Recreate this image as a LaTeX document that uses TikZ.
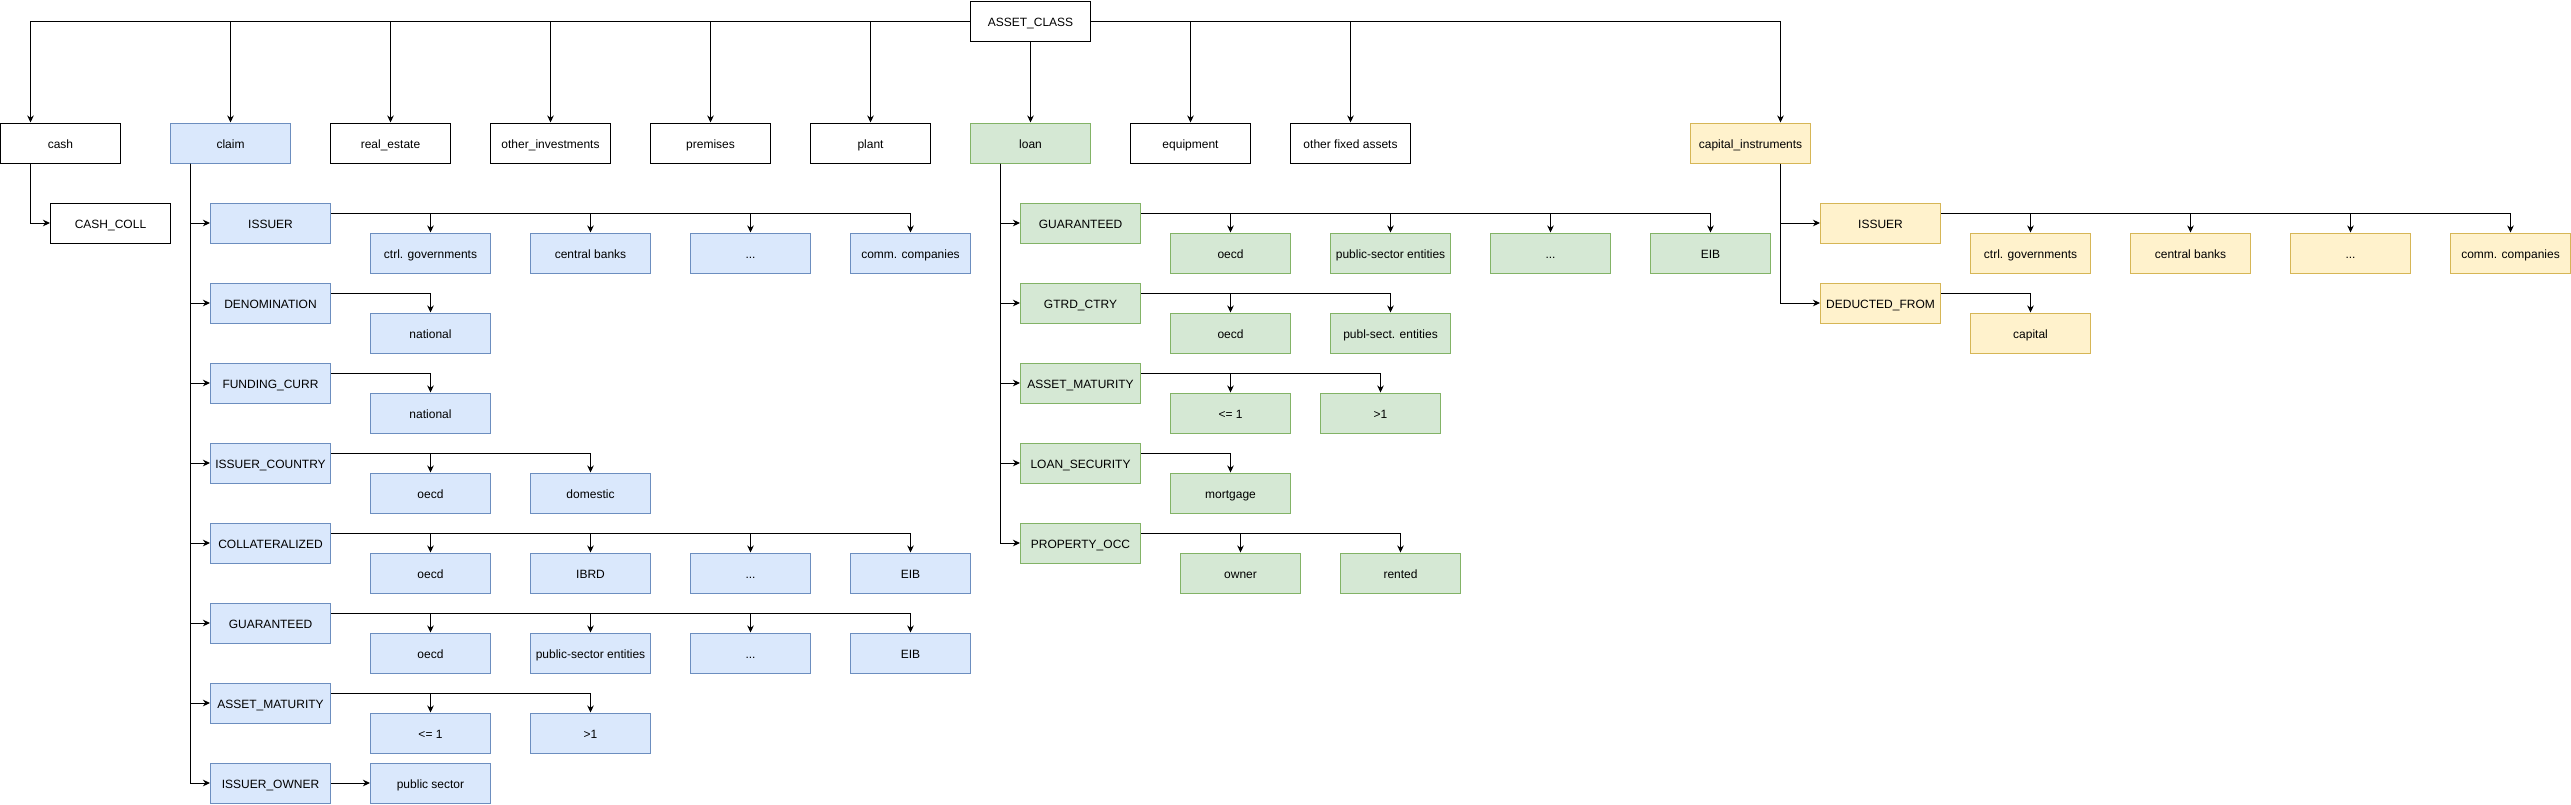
\documentclass[tikz,border=0pt]{standalone}
\usepackage{fontspec}
\setmainfont{Liberation Sans}
\usetikzlibrary{arrows.meta}
\definecolor{bfill}{HTML}{DAE8FC}\definecolor{bline}{HTML}{6C8EBF}
\definecolor{gfill}{HTML}{D5E8D4}\definecolor{gline}{HTML}{82B366}
\definecolor{yfill}{HTML}{FFF2CC}\definecolor{yline}{HTML}{D6B656}
\newcommand\putbox[5]{\node[#1] (#2) at (#3+60,#4+20) {#5};}
\begin{document}
\begin{tikzpicture}[x=1pt,y=-1pt,
  base/.style={draw, line width=1pt, minimum width=120pt, minimum height=40pt, inner sep=0pt,
    text height=13pt, text depth=2.4pt,
    font=\fontsize{12pt}{14pt}\selectfont},
  wbox/.style={base, draw=black, fill=white},
  bbox/.style={base, draw=bline, fill=bfill},
  gbox/.style={base, draw=gline, fill=gfill},
  ybox/.style={base, draw=yline, fill=yfill},
  arr/.style={line width=1pt, draw=black, -{Stealth[length=7pt,width=6.5pt,inset=2.2pt]}},
  ln/.style={line width=1pt, draw=black}]
\useasboundingbox (-0.5,0) rectangle (2570.5,804);
% top level
\putbox{wbox}{AC}{970}{1}{ASSET\_CLASS}
\putbox{wbox}{cash}{0}{123}{cash}
\putbox{bbox}{claim}{170}{123}{claim}
\putbox{wbox}{re}{330}{123}{real\_estate}
\putbox{wbox}{oi}{490}{123}{other\_investments}
\putbox{wbox}{prem}{650}{123}{premises}
\putbox{wbox}{plant}{810}{123}{plant}
\putbox{gbox}{loan}{970}{123}{loan}
\putbox{wbox}{equip}{1130}{123}{equipment}
\putbox{wbox}{ofa}{1290}{123}{other fixed assets}
\putbox{ybox}{cap}{1690}{123}{capital\_instruments}
\putbox{wbox}{cc}{50}{203}{CASH\_COLL}
% claim attributes
\putbox{bbox}{cI}{210}{203}{ISSUER}
\putbox{bbox}{cD}{210}{283}{DENOMINATION}
\putbox{bbox}{cF}{210}{363}{FUNDING\_CURR}
\putbox{bbox}{cIC}{210}{443}{ISSUER\_COUNTRY}
\putbox{bbox}{cC}{210}{523}{COLLATERALIZED}
\putbox{bbox}{cG}{210}{603}{GUARANTEED}
\putbox{bbox}{cAM}{210}{683}{ASSET\_MATURITY}
\putbox{bbox}{cIO}{210}{763}{ISSUER\_OWNER}
% claim values
\putbox{bbox}{cI1}{370}{233}{ctrl. governments}
\putbox{bbox}{cI2}{530}{233}{central banks}
\putbox{bbox}{cI3}{690}{233}{...}
\putbox{bbox}{cI4}{850}{233}{comm. companies}
\putbox{bbox}{cD1}{370}{313}{national}
\putbox{bbox}{cF1}{370}{393}{national}
\putbox{bbox}{cIC1}{370}{473}{oecd}
\putbox{bbox}{cIC2}{530}{473}{domestic}
\putbox{bbox}{cC1}{370}{553}{oecd}
\putbox{bbox}{cC2}{530}{553}{IBRD}
\putbox{bbox}{cC3}{690}{553}{...}
\putbox{bbox}{cC4}{850}{553}{EIB}
\putbox{bbox}{cG1}{370}{633}{oecd}
\putbox{bbox}{cG2}{530}{633}{public-sector entities}
\putbox{bbox}{cG3}{690}{633}{...}
\putbox{bbox}{cG4}{850}{633}{EIB}
\putbox{bbox}{cAM1}{370}{713}{<= 1}
\putbox{bbox}{cAM2}{530}{713}{>1}
\putbox{bbox}{cIO1}{370}{763}{public sector}
% loan attributes
\putbox{gbox}{lG}{1020}{203}{GUARANTEED}
\putbox{gbox}{lGC}{1020}{283}{GTRD\_CTRY}
\putbox{gbox}{lAM}{1020}{363}{ASSET\_MATURITY}
\putbox{gbox}{lLS}{1020}{443}{LOAN\_SECURITY}
\putbox{gbox}{lPO}{1020}{523}{PROPERTY\_OCC}
% loan values
\putbox{gbox}{lG1}{1170}{233}{oecd}
\putbox{gbox}{lG2}{1330}{233}{public-sector entities}
\putbox{gbox}{lG3}{1490}{233}{...}
\putbox{gbox}{lG4}{1650}{233}{EIB}
\putbox{gbox}{lGC1}{1170}{313}{oecd}
\putbox{gbox}{lGC2}{1330}{313}{publ-sect. entities}
\putbox{gbox}{lAM1}{1170}{393}{<= 1}
\putbox{gbox}{lAM2}{1320}{393}{>1}
\putbox{gbox}{lLS1}{1170}{473}{mortgage}
\putbox{gbox}{lPO1}{1180}{553}{owner}
\putbox{gbox}{lPO2}{1340}{553}{rented}
% capital instruments
\putbox{ybox}{kI}{1820}{203}{ISSUER}
\putbox{ybox}{kD}{1820}{283}{DEDUCTED\_FROM}
\putbox{ybox}{kI1}{1970}{233}{ctrl. governments}
\putbox{ybox}{kI2}{2130}{233}{central banks}
\putbox{ybox}{kI3}{2290}{233}{...}
\putbox{ybox}{kI4}{2450}{233}{comm. companies}
\putbox{ybox}{kD1}{1970}{313}{capital}
% top-level connectors
\foreach \t/\s in {cash/-30,claim/0,re/0,oi/0,prem/0,plant/0}
  \draw[arr] (AC.west) -| ([xshift=\s pt]\t.north);
\foreach \t/\s in {equip/0,ofa/0,cap/30}
  \draw[arr] (AC.east) -| ([xshift=\s pt]\t.north);
\draw[arr] (AC.south) -- (loan.north);
\draw[arr] ([xshift=-30pt]cash.south) |- (cc.west);
% claim spine
\foreach \a in {cI,cD,cF,cIC,cC,cG,cAM,cIO}
  \draw[arr] ([xshift=-40pt]claim.south) |- (\a.west);
\foreach \a/\b in {cI/cI1,cI/cI2,cI/cI3,cI/cI4,cD/cD1,cF/cF1,cIC/cIC1,cIC/cIC2,
  cC/cC1,cC/cC2,cC/cC3,cC/cC4,cG/cG1,cG/cG2,cG/cG3,cG/cG4,cAM/cAM1,cAM/cAM2}
  \draw[arr] ([yshift=10pt]\a.east) -| (\b.north);
\draw[arr] (cIO.east) -- (cIO1.west);
% loan spine
\foreach \a in {lG,lGC,lAM,lLS,lPO}
  \draw[arr] ([xshift=-30pt]loan.south) |- (\a.west);
\foreach \a/\b in {lG/lG1,lG/lG2,lG/lG3,lG/lG4,lGC/lGC1,lGC/lGC2,lAM/lAM1,lAM/lAM2,
  lLS/lLS1,lPO/lPO1,lPO/lPO2}
  \draw[arr] ([yshift=10pt]\a.east) -| (\b.north);
% capital spine
\foreach \a in {kI,kD}
  \draw[arr] ([xshift=30pt]cap.south) |- (\a.west);
\foreach \a/\b in {kI/kI1,kI/kI2,kI/kI3,kI/kI4,kD/kD1}
  \draw[arr] ([yshift=10pt]\a.east) -| (\b.north);
\end{tikzpicture}
\end{document}
